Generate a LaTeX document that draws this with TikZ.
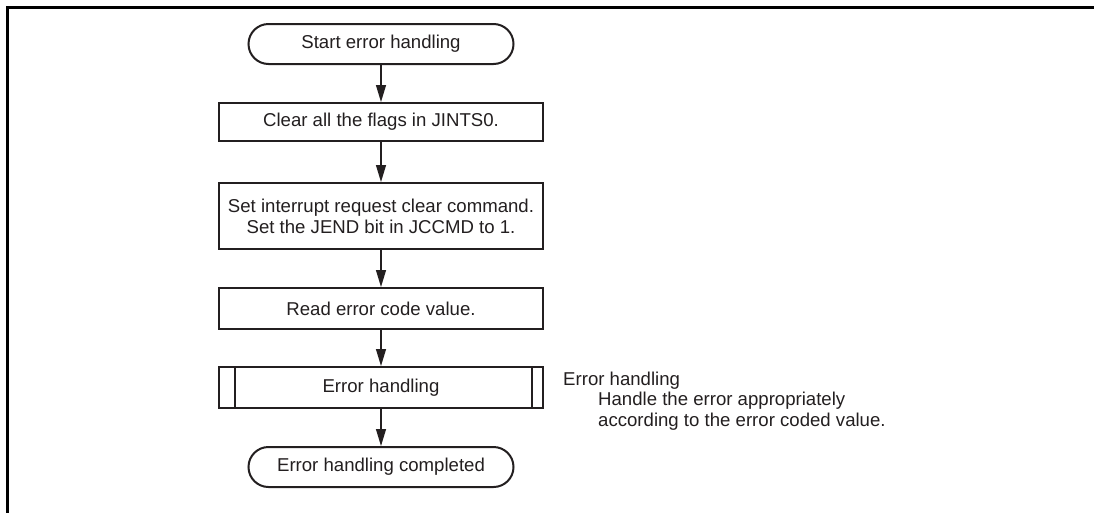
\documentclass[tikz,border=0pt]{standalone}
\usepackage{fontspec}
\setmainfont{Liberation Sans}
\usetikzlibrary{arrows.meta}
\definecolor{ink}{HTML}{231F20}
\begin{document}
\begin{tikzpicture}[x=1pt,y=-1pt,
  every node/.style={font=\fontsize{18.6}{21}\selectfont, text=ink, inner sep=0pt},
  procbox/.style={draw=ink, line width=2pt, minimum width=324pt, align=center},
  termbox/.style={draw=ink, line width=2pt, minimum width=265pt, minimum height=40pt, rounded corners=20pt},
  flow/.style={draw=ink, line width=1.2pt, -{Triangle[length=17pt,width=10pt]}}]
\useasboundingbox (0,0) rectangle (1094,512);
\clip (0,0) rectangle (1094,512);
\fill[white] (0,0) rectangle (1094,512);
\draw[line width=2.6pt, black] (7.5,7.5) rectangle (1120,540);
\node[termbox] (start) at (381,44) {Start error handling};
\node[procbox, minimum height=38pt] (clr) at (381,122) {Clear all the flags in JINTS0.};
\node[procbox, minimum height=66pt] (cmd) at (381,216) {Set interrupt request clear command.\\Set the JEND bit in JCCMD to 1.};
\node[procbox, minimum height=41pt] (rd) at (381,308.5) {Read error code value.};
\node[procbox, minimum height=41pt] (eh) at (381,387.5) {Error handling};
\draw[ink, line width=2pt] ([xshift=17pt]eh.north west) -- ([xshift=17pt]eh.south west);
\draw[ink, line width=2pt] ([xshift=-12pt]eh.north east) -- ([xshift=-12pt]eh.south east);
\node[termbox] (done) at (381,467) {Error handling completed};
\draw[flow] (start) -- (clr);
\draw[flow] (clr) -- (cmd);
\draw[flow] (cmd) -- (rd);
\draw[flow] (rd) -- (eh);
\draw[flow] (eh) -- (done);
\node[anchor=base west] (n1) at (563,385) {Error handling};
\node[anchor=base west] (n2) at (598,405.8) {Handle the error appropriately};
\node[anchor=base west] (n3) at (598,426.6) {according to the error coded value.};
\end{tikzpicture}
\end{document}
